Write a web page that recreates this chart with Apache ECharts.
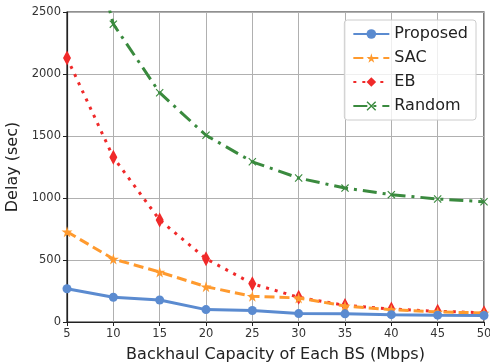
<!DOCTYPE html>
<html>
<head>
	<meta charset="UTF-8">
	<title></title>
	<script src="https://cdn.jsdelivr.net/npm/echarts@6/dist/echarts.min.js"></script>
	<style>
		html, body { margin: 0; padding: 0; background: #fff; }
	</style>
</head>
<body>
<div id="main" style="width: 490px;height:362px;"></div>
<script>
	// 数据
	var capacity = [5, 10, 15, 20, 25, 30, 35, 40, 45, 50];
	var proposed = [268, 200, 177, 100, 93, 68, 66, 59, 55, 52];
	var sac = [728, 508, 403, 285, 207, 194, 129, 99, 81, 73];
	var eb = [2130, 1328, 823, 510, 309, 199, 134, 105, 86, 75];
	var random = [3800, 2402, 1849, 1506, 1292, 1161, 1080, 1027, 992, 970];

	var starPath = 'path://M50,0 L61,35 L98,35 L68,57 L79,91 L50,70 L21,91 L32,57 L2,35 L39,35 Z';
	var xPath = 'path://M0,10 L10,0 L50,40 L90,0 L100,10 L60,50 L100,90 L90,100 L50,60 L10,100 L0,90 L40,50 Z';

	function pairs(arr){
		var out = [];
		for(var i=0;i<arr.length;i++){
			out.push([capacity[i], arr[i]]);
		}
		return out;
	}

	var myChart = echarts.init(document.getElementById('main'));
	var font = 'DejaVu Sans';
	var option = {
		animation: false,
		grid: {
			left: 67, right: 6, top: 12, bottom: 40,
			outerBoundsMode: 'none',
			containLabel: false,
			show: true, borderColor: '#222', borderWidth: 1.2
		},
		legend: {
			right: 14, top: 20,
			orient: 'vertical',
			itemWidth: 36, itemHeight: 12, itemGap: 8,
			padding: [6, 8, 6, 8],
			backgroundColor: 'rgba(255,255,255,0.8)',
			borderColor: '#ccc', borderWidth: 1, borderRadius: 3,
			textStyle: { fontFamily: font, fontSize: 16, color: '#222' },
			data: ['Proposed', 'SAC', 'EB', 'Random']
		},
		xAxis: {
			type: 'value', min: 5, max: 50, interval: 5,
			name: 'Backhaul Capacity of Each BS (Mbps)',
			nameLocation: 'middle', nameGap: 25,
			nameTextStyle: { fontFamily: font, fontSize: 16, color: '#222' },
			axisLine: { lineStyle: { color: '#222', width: 1.2 } },
			axisTick: { show: true, length: 4, lineStyle: { color: '#222' } },
			axisLabel: { fontFamily: font, fontSize: 11.5, color: '#333', margin: 6 },
			splitLine: { show: true, lineStyle: { color: '#b0b0b0', width: 1 } }
		},
		yAxis: {
			type: 'value', min: 0, max: 2500, interval: 500,
			name: 'Delay (sec)',
			nameLocation: 'middle', nameGap: 42,
			nameTextStyle: { fontFamily: font, fontSize: 16, color: '#222' },
			axisLine: { show: true, lineStyle: { color: '#222', width: 1.2 } },
			axisTick: { show: true, length: 4, lineStyle: { color: '#222' } },
			axisLabel: { fontFamily: font, fontSize: 11.5, color: '#333', margin: 6,
				formatter: function(v){ return String(v); } },
			splitLine: { show: true, lineStyle: { color: '#b0b0b0', width: 1 } }
		},
		series: [
			{
				name: 'Proposed', type: 'line', data: pairs(proposed),
				symbol: 'circle', symbolSize: 9,
				itemStyle: { color: '#5b8bd0' },
				lineStyle: { width: 3, color: '#5b8bd0' },
				z: 5
			},
			{
				name: 'SAC', type: 'line', data: pairs(sac),
				symbol: starPath, symbolSize: 11,
				itemStyle: { color: '#ff9a2e' },
				lineStyle: { width: 3, type: [10, 5], color: '#ff9a2e' },
				z: 4
			},
			{
				name: 'EB', type: 'line', data: pairs(eb),
				symbol: 'diamond', symbolSize: [8, 15],
				itemStyle: { color: '#f02a2a' },
				lineStyle: { width: 3, type: [3, 6], color: '#f02a2a' },
				z: 3
			},
			{
				name: 'Random', type: 'line', data: pairs(random),
				symbol: xPath, symbolSize: 8,
				itemStyle: { color: '#3a8a3e' },
				lineStyle: { width: 3, type: [14, 6, 3, 6], color: '#3a8a3e' },
				clip: true,
				z: 2
			}
		]
	};
	myChart.setOption(option);
</script>
</body>
</html>
